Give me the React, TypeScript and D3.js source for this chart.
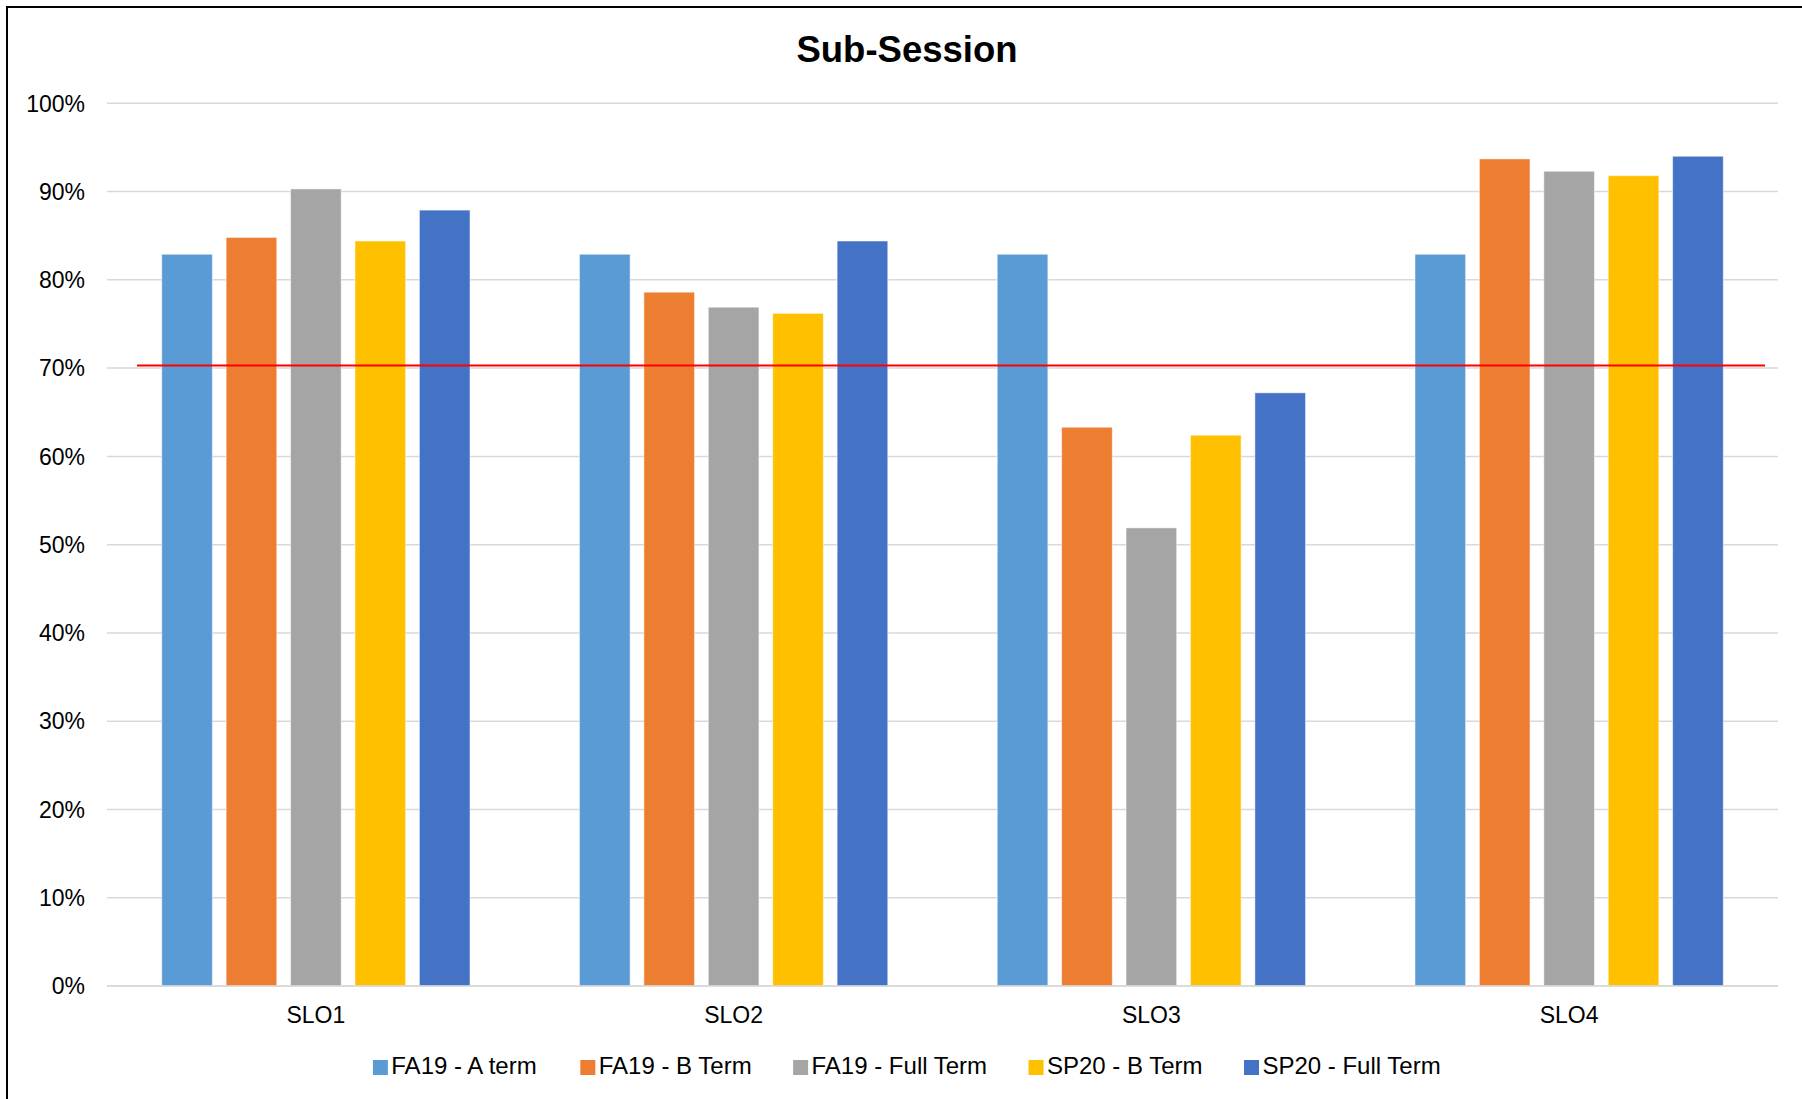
import React from 'react';
import * as d3 from 'd3';

const categories = ['SLO1', 'SLO2', 'SLO3', 'SLO4'];
const seriesNames = ['FA19 - A term', 'FA19 - B Term', 'FA19 - Full Term', 'SP20 - B Term', 'SP20 - Full Term'];
const seriesColors = ['#5B9BD5', '#ED7D31', '#A5A5A5', '#FFC000', '#4472C4'];
const fa19A = [0.829, 0.829, 0.829, 0.829];
const fa19B = [0.848, 0.786, 0.633, 0.937];
const fa19Full = [0.903, 0.769, 0.519, 0.923];
const sp20B = [0.844, 0.762, 0.624, 0.918];
const sp20Full = [0.879, 0.844, 0.672, 0.940];
const seriesValues = [fa19A, fa19B, fa19Full, sp20B, sp20Full];
const yTicks = [0, 0.1, 0.2, 0.3, 0.4, 0.5, 0.6, 0.7, 0.8, 0.9, 1.0];
const threshold = 0.703;
const title = 'Sub-Session';

const FONT = '"Liberation Sans", Arial, Helvetica, sans-serif';

function measure(text: string, size: number): number {
  const c = document.createElement('canvas');
  const ctx = c.getContext('2d');
  if (!ctx) return text.length * size * 0.5;
  ctx.font = `${size}px ${FONT}`;
  return ctx.measureText(text).width;
}

export default function App() {
  const W = 1802, H = 1099;
  const plotLeft = 107, plotRight = 1778, plotTop = 103.3, plotBottom = 986;
  const x = d3.scaleBand<string>().domain(categories).range([plotLeft, plotRight]).padding(0);
  const bw = x.bandwidth();
  const side = bw * 0.131;
  const xs = d3.scaleBand<string>().domain(seriesNames).range([side, bw - side]).paddingInner(0.214).paddingOuter(0);
  const y = d3.scaleLinear().domain([0, 1]).range([plotBottom, plotTop]);
  const fmt = d3.format('.0%');
  const chartCenter = 907;

  const legendFont = 24;
  const sq = 15, sqGap = 3.4, itemGap = 41;
  const widths = seriesNames.map((s) => measure(s, legendFont));
  const itemW = widths.map((w) => sq + sqGap + w);
  const total = d3.sum(itemW) + itemGap * (seriesNames.length - 1);
  let cursor = chartCenter - total / 2;
  const legendItems = seriesNames.map((s, i) => {
    const item = { name: s, color: seriesColors[i], x: cursor };
    cursor += itemW[i] + itemGap;
    return item;
  });

  return (
    <svg width={W} height={H} style={{ position: 'absolute', left: 0, top: 0, background: '#fff' }} fontFamily={FONT}>
      <rect x={0} y={0} width={W} height={H} fill="#fff" />
      <rect x={7} y={7} width={1800} height={1110} fill="none" stroke="#000" strokeWidth={2} />
      <text x={chartCenter} y={61.5} textAnchor="middle" fontSize={36.5} fontWeight="bold" fill="#000">{title}</text>
      {yTicks.map((t) => (
        <g key={t}>
          <line x1={plotLeft} x2={plotRight} y1={y(t)} y2={y(t)} stroke="#d9d9d9" strokeWidth={1.5} />
          <text x={85} y={y(t)} dy="0.36em" textAnchor="end" fontSize={23} fill="#000">{fmt(t)}</text>
        </g>
      ))}
      {categories.map((c, ci) => (
        <g key={c}>
          {seriesNames.map((s, si) => {
            const v = seriesValues[si][ci];
            const bx = (x(c) as number) + (xs(s) as number);
            return (
              <rect key={s} x={bx} y={y(v)} width={xs.bandwidth()} height={y(0) - y(v)}
                fill={seriesColors[si]} stroke="#ffffff" strokeOpacity={0.5} strokeWidth={1} />
            );
          })}
          <text x={(x(c) as number) + bw / 2} y={1023.3} textAnchor="middle" fontSize={23} fill="#000">{c}</text>
        </g>
      ))}
      <line x1={plotLeft} x2={plotRight} y1={y(0)} y2={y(0)} stroke="#d9d9d9" strokeWidth={1.5} />
      <line x1={plotLeft + 30} x2={plotRight - 13} y1={y(threshold)} y2={y(threshold)} stroke="#ff0000" strokeWidth={2} />
      {legendItems.map((it) => (
        <g key={it.name}>
          <rect x={it.x} y={1060} width={sq} height={sq} fill={it.color} />
          <text x={it.x + sq + sqGap} y={1074.3} fontSize={legendFont} fill="#000">{it.name}</text>
        </g>
      ))}
    </svg>
  );
}
